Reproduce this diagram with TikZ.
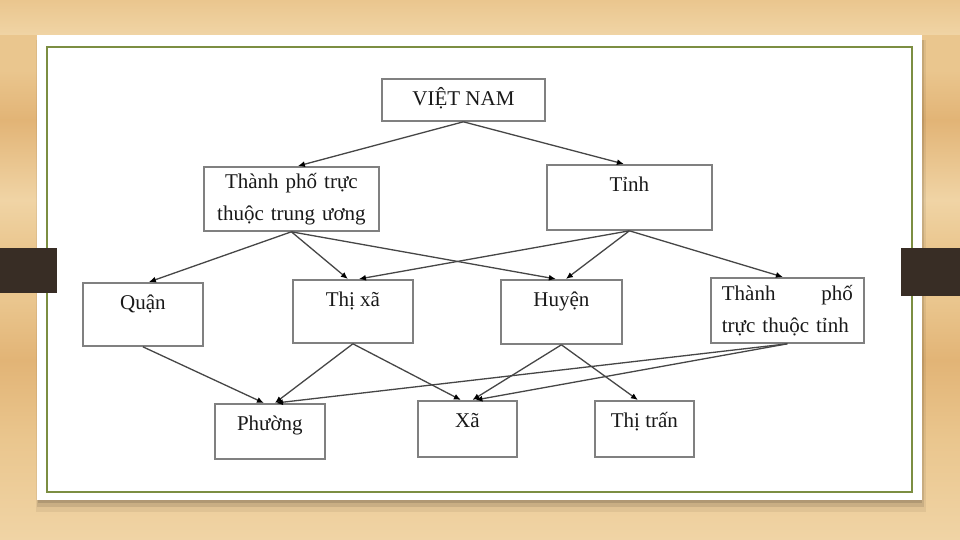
\documentclass[tikz,border=0pt]{standalone}
\usepackage{fontspec}
\setmainfont{Liberation Serif}
\usetikzlibrary{arrows.meta}
\definecolor{WoodTan}{RGB}{234,198,142}
\definecolor{WoodDark}{RGB}{226,180,118}
\definecolor{WoodLight}{RGB}{240,212,165}
\definecolor{FrameGreen}{RGB}{124,142,66}
\definecolor{TabBrown}{RGB}{56,45,37}
\definecolor{BoxGray}{RGB}{128,128,128}
\definecolor{LinkGray}{RGB}{70,70,70}

\begin{document}
\begin{tikzpicture}[x=1pt, y=-1pt,
    unit/.style={draw=BoxGray, line width=1.8pt, anchor=north west, inner sep=0pt,
                 text height=27pt, text=black!90, font=\fontsize{21}{32}\selectfont},
    unittwo/.style={draw=BoxGray, line width=1.8pt, anchor=north west, inner sep=0pt,
                 text=black!90, font=\fontsize{21}{32}\selectfont},
    link/.style={draw=LinkGray, line width=1.3pt, -{Latex[length=7pt,width=6pt,black]}}]
    \useasboundingbox (0,0) rectangle (960,540);
    % wood background
    \fill[WoodTan] (0,0) rectangle (960,540);
    \shade[top color=WoodTan, bottom color=WoodLight] (0,0) rectangle (960,35);
    \shade[top color=WoodTan, bottom color=WoodDark] (0,70) rectangle (960,120);
    \shade[top color=WoodDark, bottom color=WoodLight] (0,120) rectangle (960,200);
    \shade[top color=WoodLight, bottom color=WoodTan] (0,200) rectangle (960,250);
    \shade[top color=WoodTan, bottom color=WoodDark] (0,300) rectangle (960,360);
    \shade[top color=WoodDark, bottom color=WoodTan] (0,360) rectangle (960,440);
    \shade[top color=WoodTan, bottom color=WoodLight] (0,440) rectangle (960,540);
    % card with shadow and green frame
    \fill[black, opacity=.06] (36,40) rectangle (926,512);
    \fill[black, opacity=.10] (37,40) rectangle (924,507);
    \fill[black, opacity=.12] (38,40) rectangle (922,503);
    \fill[white] (37,35) rectangle (922,500);
    \draw[FrameGreen, line width=2pt] (47,47) rectangle (912,492);
    \fill[TabBrown] (0,248) rectangle (57,293);
    \fill[TabBrown] (901,248) rectangle (960,296);

    % boxes
    \node[unit, minimum width=163pt, text depth=15pt] (vn) at (381,78) {VIỆT NAM};
    \node[unittwo, minimum width=175pt, minimum height=64pt, text width=170pt, align=center]
        (tptw) at (203,166) {Thành phố trực\\thuộc trung ương};
    \node[unit, minimum width=165pt, text depth=38pt] (tinh) at (546,164) {Tỉnh};
    \node[unit, minimum width=120pt, text depth=36pt] (quan) at (82,282) {Quận};
    \node[unit, minimum width=120pt, text depth=36pt] (thixa) at (292,279) {Thị xã};
    \node[unit, minimum width=121pt, text depth=37pt] (huyen) at (500,279) {Huyện};
    \node[unittwo, minimum width=153pt, minimum height=65pt, text width=131pt, align=left]
        (tptinh) at (710,277) {Thành\hfill phố\\trực thuộc tỉnh};
    \node[unit, minimum width=110pt, text depth=28pt] (phuong) at (214,403) {Phường};
    \node[unit, minimum width=99pt, text depth=29pt] (xa) at (417,400) {Xã};
    \node[unit, minimum width=99pt, text depth=29pt] (thitran) at (594,400) {Thị trấn};

    % links
    \draw[link] (vn.south) -- ([xshift=6.5pt]tptw.north);
    \draw[link] (vn.south) -- ([xshift=-5.5pt]tinh.north);
    \draw[link] (tptw.south) -- ([xshift=6pt]quan.north);
    \draw[link] (tptw.south) -- ([xshift=-5pt]thixa.north);
    \draw[link] (tptw.south) -- ([xshift=-5.5pt]huyen.north);
    \draw[link] (tinh.south) -- ([xshift=6pt]thixa.north);
    \draw[link] (tinh.south) -- ([xshift=4.5pt]huyen.north);
    \draw[link] (tinh.south) -- ([xshift=-4.5pt]tptinh.north);
    \draw[link] (quan.south) -- ([xshift=-6pt]phuong.north);
    \draw[link] (thixa.south) -- ([xshift=5pt]phuong.north);
    \draw[link] (thixa.south) -- ([xshift=-6.5pt]xa.north);
    \draw[link] (huyen.south) -- ([xshift=5pt]xa.north);
    \draw[link] (huyen.south) -- ([xshift=-6.5pt]thitran.north);
    \draw[link] (tptinh.south) -- ([xshift=6pt]phuong.north);
    \draw[link] (tptinh.south) -- ([xshift=8pt]xa.north);
\end{tikzpicture}
\end{document}
